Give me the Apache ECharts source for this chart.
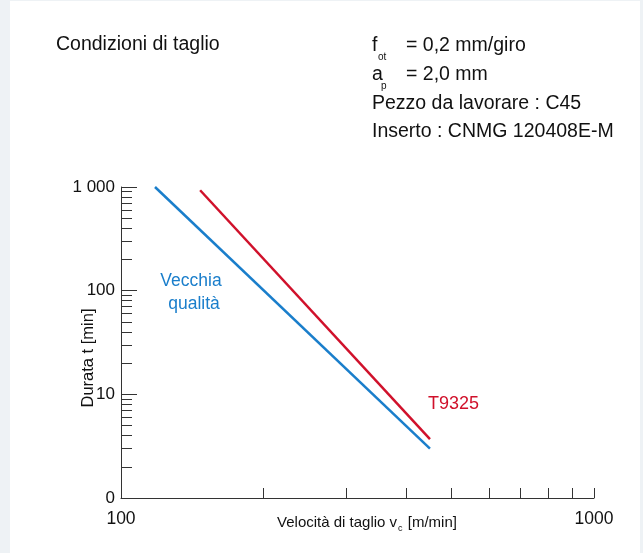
<!DOCTYPE html>
<html><head><meta charset="utf-8">
<script src="https://cdn.jsdelivr.net/npm/echarts@6/dist/echarts.min.js"></script>
<style>html,body{margin:0;padding:0;background:#eef2f5;}#c{width:643px;height:553px;}</style>
</head><body><div id="c"></div>
<script>
// Data (log-log tool life chart)
const speedOld = [118, 450];      // Vecchia qualità, v_c [m/min]
const lifeOld = [1000, 3.0];      // t [min]
const speedNew = [147, 450];      // T9325
const lifeNew = [930, 3.7];
const xLabelValues = [100, 1000];
const xTickValues = [200, 300, 400, 500, 600, 700, 800, 900, 1000];
const yMajorValues = [1, 10, 100, 1000];
const yMinorValues = [2,3,4,5,6,7,8,9,20,30,40,50,60,70,80,90,200,300,400,500,600,700,800,900];
const yLabelText = {1: '0', 10: '10', 100: '100', 1000: '1 000'};

const FONT = 'Liberation Sans, Arial, sans-serif';
const AX = '#333';
const BLUE = '#1a7ecb';
const RED = '#d0112b';

function pairs(xs, ys) { return xs.map((x, i) => [x, ys[i]]); }

const chart = echarts.init(document.getElementById('c'), null, {renderer: 'canvas'});
chart.setOption({
  animation: false,
  backgroundColor: 'transparent',
  grid: {left: 121, right: 49, top: 187, bottom: 55, containLabel: false},
  xAxis: [{
    type: 'log', logBase: 10, min: 100, max: 1000,
    axisLine: {show: true, lineStyle: {color: AX, width: 1}},
    axisTick: {show: true, inside: true, length: 10, customValues: xTickValues, lineStyle: {color: AX, width: 1}},
    axisLabel: {customValues: xLabelValues, fontSize: 17.5, color: '#111', margin: 12, fontFamily: FONT,
      formatter: v => String(Math.round(v))},
    splitLine: {show: false}, minorTick: {show: false}
  }],
  yAxis: [{
    type: 'log', logBase: 10, min: 1, max: 1000, position: 'left',
    axisLine: {show: true, lineStyle: {color: AX, width: 1}},
    axisTick: {show: true, inside: true, length: 16, customValues: yMajorValues, lineStyle: {color: AX, width: 1}},
    axisLabel: {customValues: yMajorValues, fontSize: 17, color: '#111', margin: 6, fontFamily: FONT,
      formatter: v => (yLabelText[Math.round(v)] !== undefined ? yLabelText[Math.round(v)] : String(v))},
    splitLine: {show: false}, minorTick: {show: false}
  }, {
    type: 'log', logBase: 10, min: 1, max: 1000, position: 'left', offset: 0,
    axisLine: {show: false},
    axisTick: {show: true, inside: true, length: 11, customValues: yMinorValues, lineStyle: {color: AX, width: 1}},
    axisLabel: {show: false},
    splitLine: {show: false}, minorTick: {show: false}
  }],
  series: [{
    name: 'Vecchia qualità', type: 'line', xAxisIndex: 0, yAxisIndex: 0,
    data: pairs(speedOld, lifeOld), symbol: 'none',
    lineStyle: {color: BLUE, width: 2.5}, z: 3
  }, {
    name: 'T9325', type: 'line', xAxisIndex: 0, yAxisIndex: 0,
    data: pairs(speedNew, lifeNew), symbol: 'none',
    lineStyle: {color: RED, width: 2.5}, z: 3
  }],
  graphic: [
    {type: 'rect', z: -10, silent: true, shape: {x: 10, y: 1, width: 630, height: 552}, style: {fill: '#ffffff'}},
    {type: 'text', left: 56, top: 35, style: {text: 'Condizioni di taglio', fontSize: 19.5, fill: '#111', fontFamily: FONT}},
    {type: 'text', x: 372, y: 46, style: {text: 'f', fontSize: 19.5, fill: '#111', fontFamily: FONT, verticalAlign: 'middle'}},
    {type: 'text', x: 378, y: 57, style: {text: 'ot', fontSize: 10, fill: '#111', fontFamily: FONT, verticalAlign: 'middle'}},
    {type: 'text', x: 406, y: 46, style: {text: '= 0,2 mm/giro', fontSize: 19.5, fill: '#111', fontFamily: FONT, verticalAlign: 'middle'}},
    {type: 'text', x: 372, y: 75, style: {text: 'a', fontSize: 19.5, fill: '#111', fontFamily: FONT, verticalAlign: 'middle'}},
    {type: 'text', x: 381, y: 86, style: {text: 'p', fontSize: 10, fill: '#111', fontFamily: FONT, verticalAlign: 'middle'}},
    {type: 'text', x: 406, y: 75, style: {text: '= 2,0 mm', fontSize: 19.5, fill: '#111', fontFamily: FONT, verticalAlign: 'middle'}},
    {type: 'text', x: 372, y: 104, style: {text: 'Pezzo da lavorare : C45', fontSize: 19.5, fill: '#111', fontFamily: FONT, verticalAlign: 'middle'}},
    {type: 'text', x: 372, y: 132, style: {text: 'Inserto : CNMG 120408E-M', fontSize: 19.5, fill: '#111', fontFamily: FONT, verticalAlign: 'middle'}},
    {type: 'text', x: 191, y: 281, style: {text: 'Vecchia', fontSize: 17.5, fill: BLUE, fontFamily: FONT, align: 'center', verticalAlign: 'middle'}},
    {type: 'text', x: 194, y: 304, style: {text: 'qualità', fontSize: 17.5, fill: BLUE, fontFamily: FONT, align: 'center', verticalAlign: 'middle'}},
    {type: 'text', x: 428, y: 404, style: {text: 'T9325', fontSize: 18, fill: RED, fontFamily: FONT, verticalAlign: 'middle'}},
    {type: 'text', x: 88, y: 358, rotation: Math.PI / 2, style: {text: 'Durata t [min]', fontSize: 16.5, fill: '#111', fontFamily: FONT, align: 'center', verticalAlign: 'middle'}},
    {type: 'text', x: 367, y: 523, style: {
      text: '{a|Velocità di taglio v}{b|c}{a| [m/min]}', fontFamily: FONT, fill: '#111', align: 'center', verticalAlign: 'middle',
      rich: {a: {fontSize: 15, lineHeight: 20, fontFamily: FONT, fill: '#111'}, b: {fontSize: 9, lineHeight: 9, verticalAlign: 'bottom', fontFamily: FONT, fill: '#111', padding: [0, 1, 0, 1]}}
    }}
  ]
});
</script></body></html>
